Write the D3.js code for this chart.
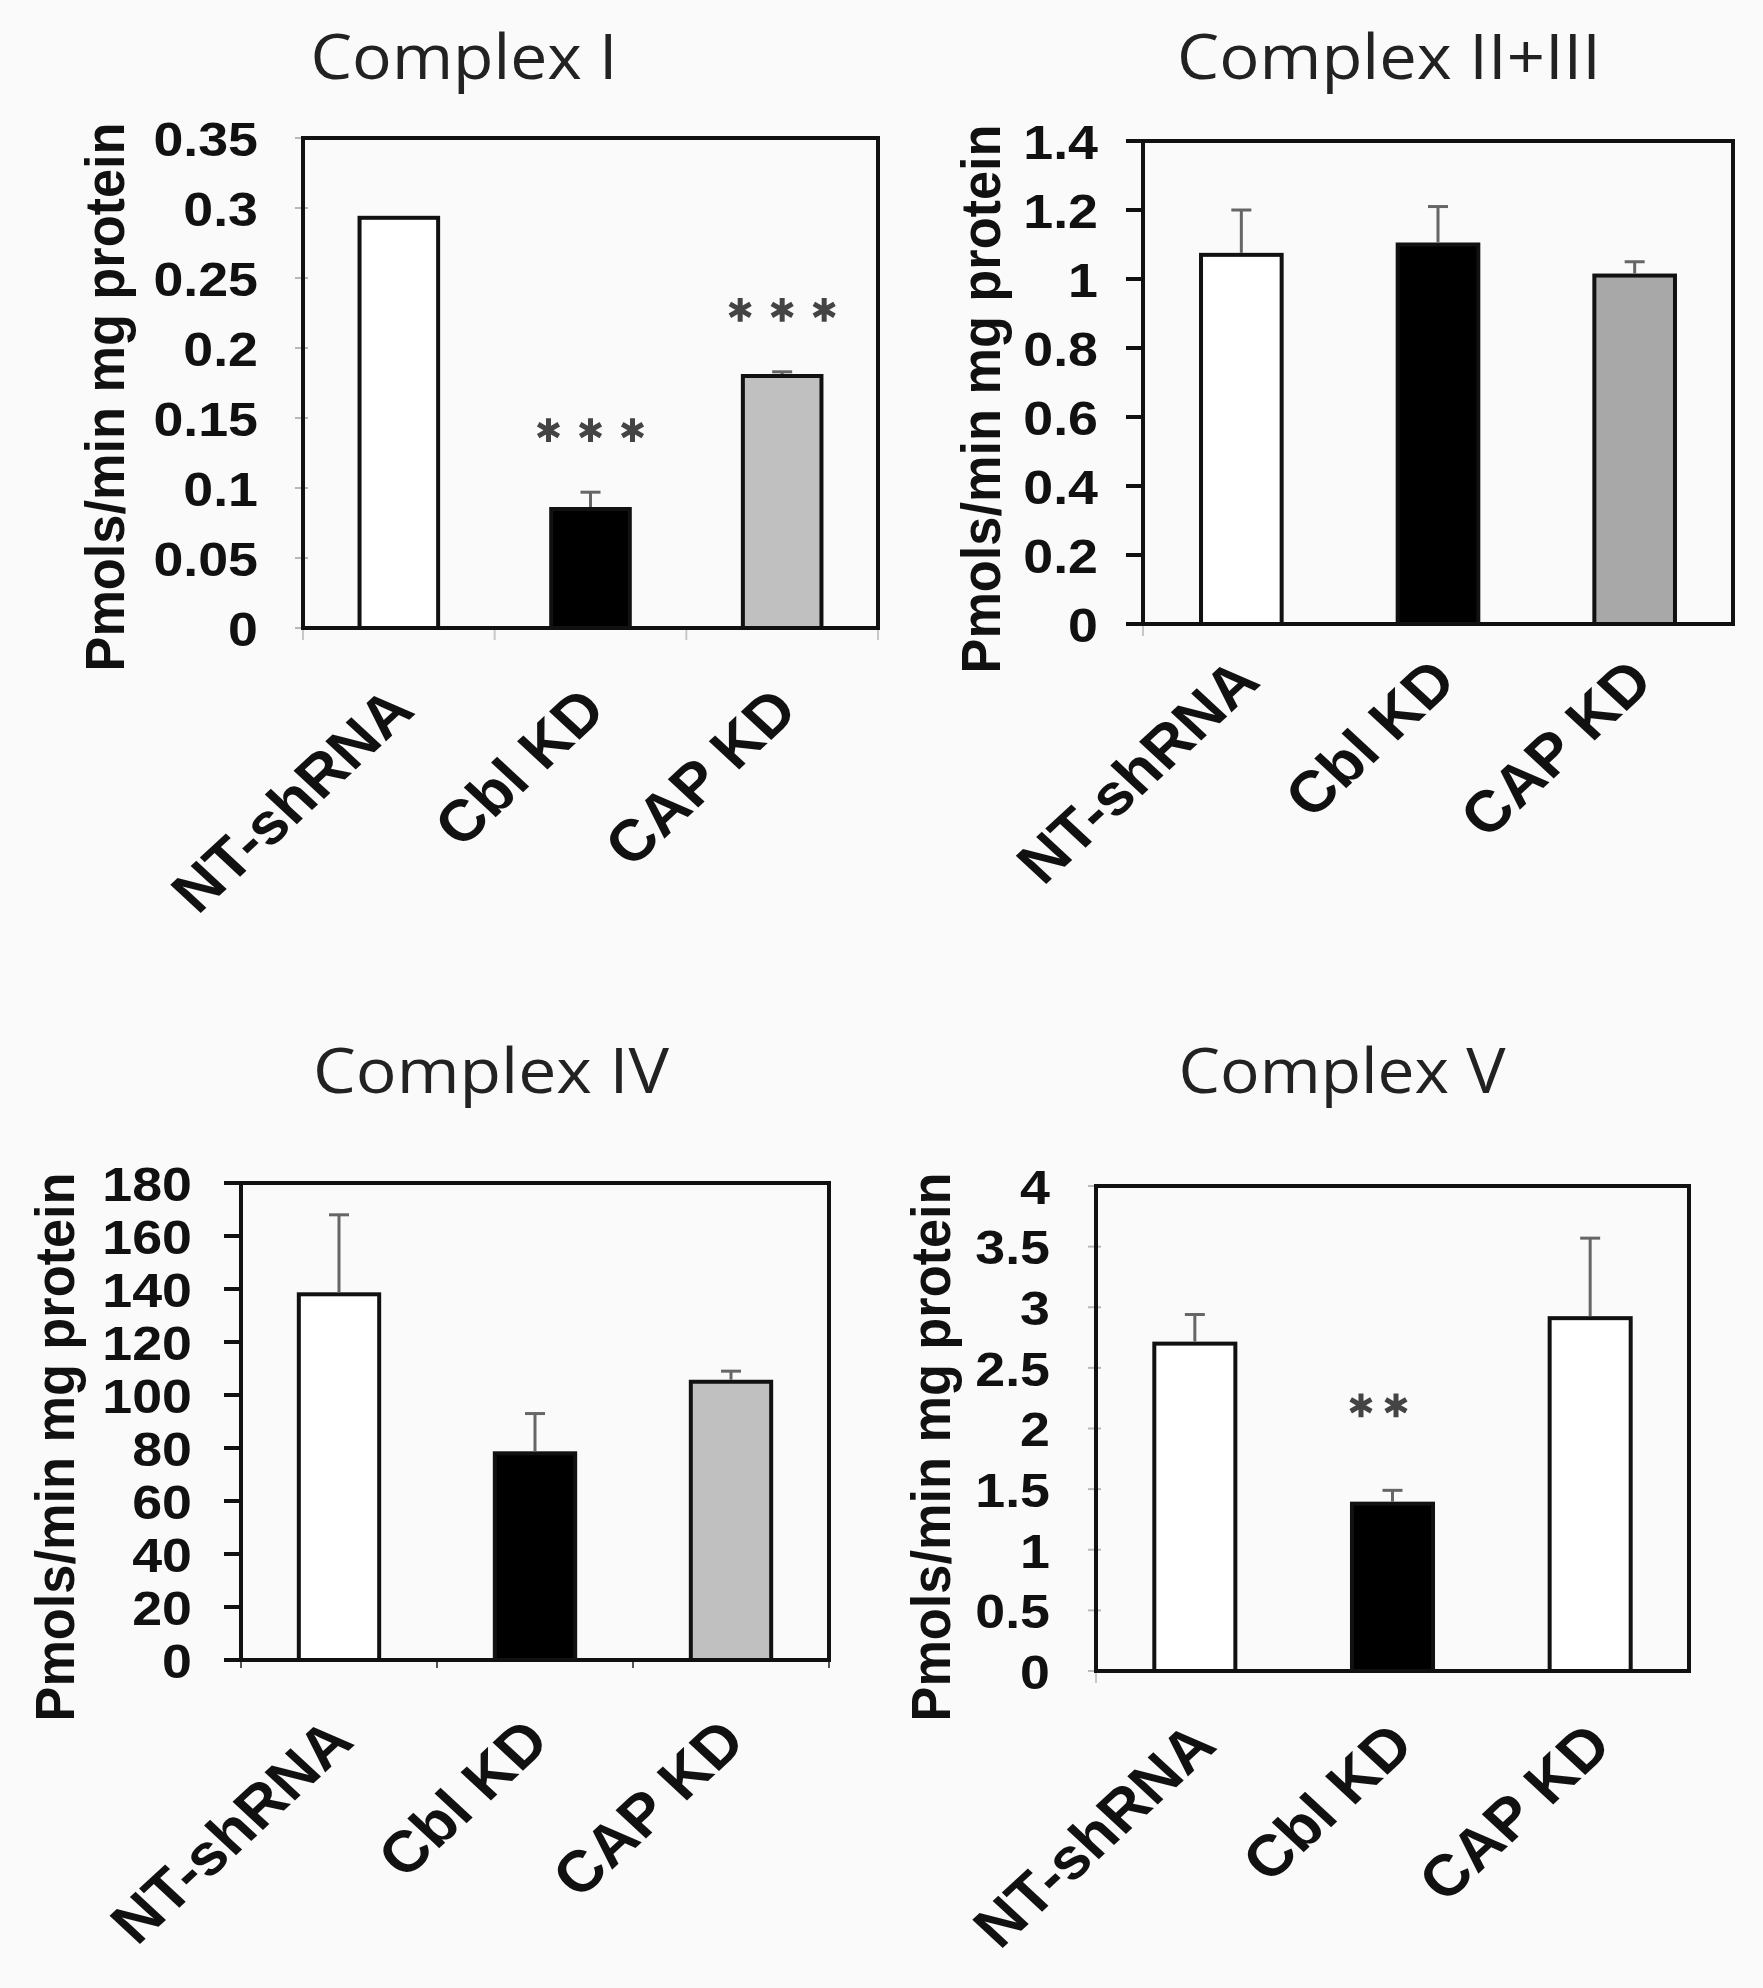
<!DOCTYPE html>
<html><head><meta charset="utf-8">
<script src="https://cdn.jsdelivr.net/npm/d3@7"></script>
<style>body{margin:0;background:#fafafa;} svg{display:block}</style>
</head><body><svg id="c" width="1763" height="1988"></svg>
<script>
// ---------- data ----------
const categories = ["NT-shRNA", "Cbl KD", "CAP KD"];

const complexIMeans = [0.293, 0.085, 0.180];
const complexIErrors = [0, 0.012, 0.003];
const complexISig = ["", "***", "***"];
const complexITicks = [0, 0.05, 0.1, 0.15, 0.2, 0.25, 0.3, 0.35];
const complexITickLabels = ["0", "0.05", "0.1", "0.15", "0.2", "0.25", "0.3", "0.35"];

const complexIIIIMeans = [1.07, 1.10, 1.01];
const complexIIIIErrors = [0.13, 0.11, 0.04];
const complexIIIISig = ["", "", ""];
const complexIIIITicks = [0, 0.2, 0.4, 0.6, 0.8, 1, 1.2, 1.4];
const complexIIIITickLabels = ["0", "0.2", "0.4", "0.6", "0.8", "1", "1.2", "1.4"];

const complexIVMeans = [138, 78, 105];
const complexIVErrors = [30, 15, 4];
const complexIVSig = ["", "", ""];
const complexIVTicks = [0, 20, 40, 60, 80, 100, 120, 140, 160, 180];
const complexIVTickLabels = ["0", "20", "40", "60", "80", "100", "120", "140", "160", "180"];

const complexVMeans = [2.70, 1.38, 2.91];
const complexVErrors = [0.24, 0.11, 0.66];
const complexVSig = ["", "**", ""];
const complexVTicks = [0, 0.5, 1, 1.5, 2, 2.5, 3, 3.5, 4];
const complexVTickLabels = ["0", "0.5", "1", "1.5", "2", "2.5", "3", "3.5", "4"];

const titles = ["Complex I", "Complex II+III", "Complex IV", "Complex V"];
const yAxisTitle = "Pmols/min mg protein";

// ---------- layout / style ----------
const panels = [
  {title: titles[0], means: complexIMeans, errs: complexIErrors, sig: complexISig,
   ticks: complexITicks, labels: complexITickLabels,
   box: {l: 303, r: 878, t: 138, b: 628},
   titleX: 464, titleY: 79, titleW: 307, yLabX: 124, yLabY: 397,
   tickRight: 258, tickStyle: "faint", xTick: "faint", fills: ["#ffffff", "#000000", "#c0c0c0"],
   catDx: 18, catDy: 85, starOff: 62, starGap: 42, starDx: 0},
  {title: titles[1], means: complexIIIIMeans, errs: complexIIIIErrors, sig: complexIIIISig,
   ticks: complexIIIITicks, labels: complexIIIITickLabels,
   box: {l: 1143, r: 1733, t: 141, b: 624},
   titleX: 1389, titleY: 79, titleW: 424, yLabX: 1000, yLabY: 399,
   tickRight: 1098, tickStyle: "dark", xTick: "corner", fills: ["#ffffff", "#000000", "#a8a8a8"],
   catDx: 21, catDy: 60, starOff: 62, starGap: 42, starDx: 0},
  {title: titles[2], means: complexIVMeans, errs: complexIVErrors, sig: complexIVSig,
   ticks: complexIVTicks, labels: complexIVTickLabels,
   box: {l: 241, r: 829, t: 1183, b: 1660},
   titleX: 491, titleY: 1093, titleW: 356, yLabX: 74, yLabY: 1447,
   tickRight: 192, tickStyle: "dark", xTick: "dark", fills: ["#ffffff", "#000000", "#c0c0c0"],
   catDx: 17, catDy: 84, starOff: 62, starGap: 42, starDx: 0},
  {title: titles[3], means: complexVMeans, errs: complexVErrors, sig: complexVSig,
   ticks: complexVTicks, labels: complexVTickLabels,
   box: {l: 1096, r: 1689, t: 1186, b: 1671},
   titleX: 1342, titleY: 1093, titleW: 327, yLabX: 950, yLabY: 1447,
   tickRight: 1050, tickStyle: "faint", xTick: "corner", fills: ["#ffffff", "#000000", "#ffffff"],
   catDx: 24, catDy: 77, starOff: 85, starGap: 35, starDx: -14}
];

const svg = d3.select("#c");
svg.append("rect").attr("width", 1763).attr("height", 1988).attr("fill", "#fafafa");

const boldFont = "'Liberation Sans', Arial, sans-serif";
const SX = 1.12;      // horizontal widening of bold labels
const SXCAT = 1.08;

panels.forEach(p => {
  const g = svg.append("g");
  const b = p.box;
  const y = d3.scaleLinear().domain([0, p.ticks[p.ticks.length - 1]]).range([b.b, b.t]);
  const x = d3.scaleBand().domain(categories).range([b.l, b.r]).padding(0);
  const bw = x.bandwidth() * 0.41;

  // title
  g.append("text").attr("x", p.titleX).attr("y", p.titleY)
    .attr("text-anchor", "middle").attr("font-family", "'Open Sans', sans-serif")
    .attr("font-size", 62).attr("fill", "#222")
    .attr("textLength", p.titleW).attr("lengthAdjust", "spacingAndGlyphs")
    .text(p.title);

  // y axis title
  g.append("text")
    .attr("transform", `translate(${p.yLabX},${p.yLabY}) scale(${SX},1) rotate(-90)`)
    .attr("text-anchor", "middle").attr("font-family", boldFont).attr("font-weight", "bold")
    .attr("font-size", 50).attr("fill", "#111")
    .attr("textLength", 549).attr("lengthAdjust", "spacingAndGlyphs")
    .text(yAxisTitle);

  // axis tick labels
  const pad = b.l - p.tickRight;
  const axis = d3.axisLeft(y).tickValues(p.ticks)
    .tickFormat((d, i) => p.labels[i]).tickSize(0).tickPadding(pad);
  const ag = g.append("g").attr("transform", `translate(${b.l},0)`).call(axis);
  ag.select(".domain").remove();
  ag.selectAll("text").attr("font-family", boldFont).attr("font-weight", "bold")
    .attr("font-size", 48).attr("fill", "#111").attr("dy", "0.36em")
    .attr("x", -pad / SX).attr("transform", `scale(${SX},1)`);

  // tick marks
  if (p.tickStyle === "dark") {
    g.selectAll(".tk").data(p.ticks).join("line")
      .attr("x1", b.l - 17).attr("x2", b.l)
      .attr("y1", d => y(d)).attr("y2", d => y(d))
      .attr("stroke", "#111").attr("stroke-width", 4);
  } else {
    g.selectAll(".tk").data(p.ticks).join("line")
      .attr("x1", b.l - 8).attr("x2", b.l + 5)
      .attr("y1", d => y(d)).attr("y2", d => y(d))
      .attr("stroke", "#b8b8b8").attr("stroke-width", 2);
  }
  // x-axis minor ticks at band boundaries
  const bounds = p.xTick === "corner" ? [b.l] : categories.map(c => x(c)).concat([b.r]);
  g.selectAll(".xt").data(bounds).join("line")
    .attr("x1", d => d).attr("x2", d => d)
    .attr("y1", b.b).attr("y2", b.b + (p.xTick === "dark" ? 8 : 12))
    .attr("stroke", p.xTick === "dark" ? "#555" : "#c8c8c8").attr("stroke-width", 2);

  // bars
  g.selectAll(".bar").data(categories).join("rect")
    .attr("x", c => x(c) + (x.bandwidth() - bw) / 2)
    .attr("width", bw)
    .attr("y", (c, i) => y(p.means[i]))
    .attr("height", (c, i) => y(0) - y(p.means[i]))
    .attr("fill", (c, i) => p.fills[i])
    .attr("stroke", "#111").attr("stroke-width", 4);

  // error bars
  categories.forEach((c, i) => {
    if (!p.errs[i]) return;
    const cx = x(c) + x.bandwidth() / 2;
    const top = y(p.means[i] + p.errs[i]);
    g.append("line").attr("x1", cx).attr("x2", cx)
      .attr("y1", y(p.means[i]) - 2).attr("y2", top)
      .attr("stroke", "#666").attr("stroke-width", 3);
    g.append("line").attr("x1", cx - 10).attr("x2", cx + 10)
      .attr("y1", top).attr("y2", top)
      .attr("stroke", "#666").attr("stroke-width", 3);
  });

  // significance stars
  categories.forEach((c, i) => {
    const n = p.sig[i].length;
    if (!n) return;
    const cx = x(c) + x.bandwidth() / 2 + p.starDx;
    const sy = y(p.means[i] + p.errs[i]) - p.starOff;
    for (let k = 0; k < n; k++) {
      const sx = cx + (k - (n - 1) / 2) * p.starGap;
      g.append("path")
        .attr("d", d3.symbol(d3.symbolAsterisk, 400)())
        .attr("transform", `translate(${sx},${sy})`)
        .attr("stroke", "#444").attr("stroke-width", 5).attr("fill", "none");
    }
  });

  // plot frame
  g.append("rect").attr("x", b.l).attr("y", b.t)
    .attr("width", b.r - b.l).attr("height", b.b - b.t)
    .attr("fill", "none").attr("stroke", "#111").attr("stroke-width", 4);

  // category labels
  g.selectAll(".cat").data(categories).join("text")
    .attr("transform", c => `translate(${x(c) + x.bandwidth() / 2 + p.catDx},${b.b + p.catDy}) scale(${SXCAT},1) rotate(-45)`)
    .attr("text-anchor", "end").attr("font-family", boldFont).attr("font-weight", "bold")
    .attr("font-size", 58).attr("fill", "#111")
    .text(c => c);
});
</script></body></html>
